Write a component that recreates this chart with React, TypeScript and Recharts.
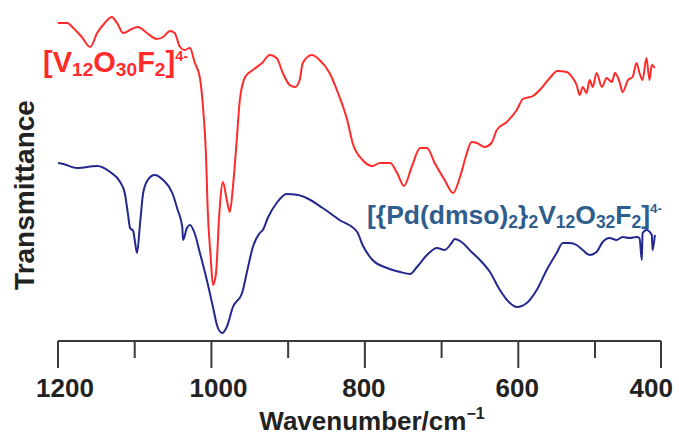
import { LineChart, Line, XAxis, YAxis, Customized } from 'recharts'

// wavenumbers (cm-1) and transmittance (arb. units, offset)
const redWavenumber = [1200, 1188, 1180, 1169, 1158, 1149, 1139, 1130, 1123, 1115, 1104, 1096, 1084, 1071, 1063, 1054, 1048, 1041, 1035, 1028, 1022, 1015, 1011, 1007, 1005, 1001, 998, 994, 990, 985, 980, 976, 972, 967, 963, 956, 946, 934, 924, 915, 907, 898, 891, 885, 881, 869, 859, 846, 835, 823, 816, 803, 790, 780, 767, 758, 749, 739, 728, 719, 709, 696, 685, 676, 667, 661, 654, 644, 635, 628, 615, 602, 594, 581, 572, 559, 549, 537, 530, 524, 520, 516, 511, 507, 503, 498, 491, 485, 478, 474, 468, 464, 457, 451, 446, 442, 438, 433, 429, 426, 422]
const redSignal = [318, 318, 313, 304, 294, 308, 318, 324, 318, 308, 312, 314, 308, 302, 304, 310, 308, 294, 291, 293, 279, 263, 234, 184, 134, 84, 56, 68, 124, 159, 141, 129, 154, 201, 241, 264, 271, 278, 286, 283, 268, 256, 254, 261, 278, 286, 281, 268, 248, 221, 198, 181, 175, 178, 178, 168, 155, 174, 193, 193, 178, 161, 148, 164, 188, 199, 198, 194, 198, 211, 219, 231, 242, 245, 251, 263, 270, 269, 264, 256, 246, 254, 248, 261, 254, 268, 254, 263, 259, 268, 259, 249, 261, 264, 278, 268, 261, 283, 261, 276, 273]

const blueWavenumber = [1200, 1193, 1175, 1149, 1132, 1119, 1113, 1109, 1106, 1102, 1100, 1097, 1093, 1089, 1083, 1074, 1063, 1051, 1044, 1038, 1037, 1032, 1028, 1022, 1015, 1006, 998, 992, 986, 980, 972, 960, 954, 946, 937, 933, 926, 915, 902, 887, 876, 855, 833, 810, 803, 790, 771, 754, 741, 732, 719, 706, 696, 687, 683, 674, 661, 650, 637, 624, 611, 602, 589, 576, 563, 550, 542, 533, 524, 516, 507, 498, 490, 481, 472, 464, 455, 446, 442, 439, 438, 433, 426, 425, 422]
const blueSignal = [178, 177, 173, 175, 169, 159, 148, 128, 113, 110, 101, 88, 118, 148, 161, 166, 161, 148, 131, 114, 101, 113, 116, 108, 88, 61, 34, 14, 8, 14, 34, 48, 68, 94, 108, 111, 124, 138, 147, 146, 143, 133, 121, 109, 96, 81, 73, 69, 67, 74, 86, 93, 91, 98, 102, 99, 89, 81, 69, 51, 38, 34, 38, 51, 71, 88, 98, 98, 96, 91, 86, 89, 99, 103, 101, 104, 103, 104, 103, 81, 108, 111, 106, 91, 106]

const xTicks = [1200, 1100, 1000, 900, 800, 700, 600, 500, 414]
const xTickLabels: Record<number, string> = { 1200: '1200', 1000: '1000', 800: '800', 600: '600', 414: '400' }

const redData = redWavenumber.map((wn, i) => ({ wn, t: redSignal[i] }))
const blueData = blueWavenumber.map((wn, i) => ({ wn, t: blueSignal[i] }))

const FONT = "'Liberation Sans', Arial, sans-serif"
const AXIS = '#3a3a3a'
const RED = '#ff2a2a'
const NAVY = '#23288f'
const STEEL = '#2f5e8e'

function Tick({ x, y, payload }: any) {
  const label = xTickLabels[payload.value]
  const len = label ? 27 : 17
  const last = payload.value === 414
  const dx = payload.value >= 1000 ? 7 : -1
  return (
    <g>
      <line x1={x} x2={x} y1={y} y2={y + len} stroke={AXIS} strokeWidth={2} />
      {label && (
        <text
          x={last ? x + 12 : x + dx}
          y={y + 56}
          textAnchor={last ? 'end' : 'middle'}
          fontFamily={FONT}
          fontWeight="bold"
          fontSize={26}
          fill="#222"
        >
          {label}
        </text>
      )}
    </g>
  )
}

type Seg = { t: string; k?: 'sub' | 'sup' }

function Formula({ x, y, segs, color, size }: { x: number; y: number; segs: Seg[]; color: string; size: number }) {
  const shift = (k?: string) => (k === 'sub' ? 4 : k === 'sup' ? -11 : 0)
  return (
    <text x={x} y={y} fontFamily={FONT} fontWeight="bold" fontSize={size} fill={color}>
      {segs.map((s, i) => (
        <tspan
          key={i}
          dy={shift(s.k) - (i > 0 ? shift(segs[i - 1].k) : 0)}
          fontSize={s.k === 'sub' ? size * 0.66 : s.k === 'sup' ? size * 0.5 : size}
        >
          {s.t}
        </tspan>
      ))}
    </text>
  )
}

const redFormula: Seg[] = [
  { t: '[V' }, { t: '12', k: 'sub' }, { t: 'O' }, { t: '30', k: 'sub' }, { t: 'F' }, { t: '2', k: 'sub' }, { t: ']' }, { t: '4-', k: 'sup' },
]
const blueFormula: Seg[] = [
  { t: '[{Pd(dmso)' }, { t: '2', k: 'sub' }, { t: '}' }, { t: '2', k: 'sub' }, { t: 'V' }, { t: '12', k: 'sub' },
  { t: 'O' }, { t: '32', k: 'sub' }, { t: 'F' }, { t: '2', k: 'sub' }, { t: ']' }, { t: '4-', k: 'sup' },
]

function Annotations() {
  return (
    <g>
      <Formula x={43} y={72} segs={redFormula} color={RED} size={29} />
      <Formula x={367} y={224} segs={blueFormula} color={STEEL} size={26.5} />
      <text x={372} y={430} textAnchor="middle" fontFamily={FONT} fontWeight="bold" fontSize={26} fill="#222">
        Wavenumber/cm
        <tspan dy={-11} fontSize={16}>−1</tspan>
      </text>
      <text
        x={34}
        y={195}
        transform="rotate(-90 34 195)"
        textAnchor="middle"
        fontFamily={FONT}
        fontWeight="bold"
        fontSize={28}
        fill="#222"
      >
        Transmittance
      </text>
    </g>
  )
}

export default function App() {
  return (
    <div style={{ position: 'absolute', left: 0, top: 0, background: '#fff' }}>
      <LineChart width={679} height={437} margin={{ top: 0, right: 18, bottom: 0, left: 58 }}>
        <XAxis
          dataKey="wn"
          type="number"
          domain={[414, 1200]}
          reversed
          allowDataOverflow
          ticks={xTicks}
          interval={0}
          height={96}
          tickSize={0}
          tickMargin={0}
          tickLine={false}
          axisLine={{ stroke: AXIS, strokeWidth: 2 }}
          tick={<Tick />}
        />
        <YAxis type="number" domain={[0, 341]} hide allowDataOverflow />
        <Line data={redData} dataKey="t" type="monotone" stroke={RED} strokeWidth={2} dot={false} isAnimationActive={false} />
        <Line data={blueData} dataKey="t" type="monotone" stroke={NAVY} strokeWidth={2} dot={false} isAnimationActive={false} />
        <Customized component={Annotations} />
      </LineChart>
    </div>
  )
}
